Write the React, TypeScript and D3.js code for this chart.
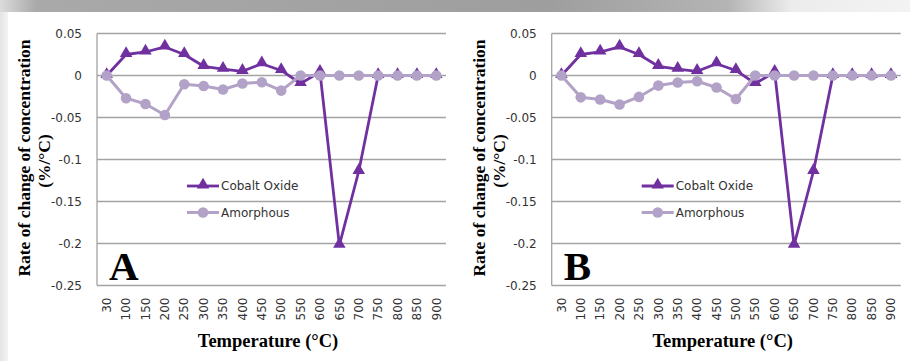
import React from "react";
import * as d3 from "d3";

const temperatures = ["30", "100", "150", "200", "250", "300", "350", "400", "450", "500", "550", "600", "650", "700", "750", "800", "850", "900"];
const yTicks = [0.05, 0, -0.05, -0.1, -0.15, -0.2, -0.25];

const cobaltA = [0, 0.025, 0.028, 0.034, 0.025, 0.011, 0.0075, 0.005, 0.014, 0.006, -0.0095, 0.004, -0.202, -0.114, 0, 0, 0, 0];
const amorphousA = [0, -0.027, -0.034, -0.047, -0.0105, -0.0125, -0.0167, -0.0095, -0.008, -0.018, 0, 0, 0, 0, 0, 0, 0, 0];
const cobaltB = [0, 0.025, 0.028, 0.034, 0.025, 0.011, 0.0075, 0.005, 0.014, 0.006, -0.0095, 0.004, -0.202, -0.114, 0, 0, 0, 0];
const amorphousB = [0, -0.026, -0.0286, -0.0345, -0.0255, -0.012, -0.0083, -0.0068, -0.0143, -0.028, 0, 0, 0, 0, 0, 0, 0, 0];

const panels = [
  { label: "A", cobalt: cobaltA, amorphous: amorphousA, offset: 0 },
  { label: "B", cobalt: cobaltB, amorphous: amorphousB, offset: 454.7 },
];

const COBALT = "#7030A0";
const AMORPH = "#B3A2C7";
const GRID = "#a3a3a3";
const SANS = "'DejaVu Sans', Verdana, sans-serif";
const SERIF = "'Liberation Serif', 'Times New Roman', serif";

const W = 910;
const H = 361;
const plotLeft = 97;
const plotRight = 446;
const plotTop = 33.5;
const plotBottom = 285.5;

const triangle = d3.symbol().type(d3.symbolTriangle).size(68);

function Panel({ label, cobalt, amorphous, offset }: { label: string; cobalt: number[]; amorphous: number[]; offset: number }) {
  const x = d3.scaleBand<string>().domain(temperatures).range([plotLeft + offset, plotRight + offset]);
  const y = d3.scaleLinear().domain([-0.25, 0.05]).range([plotBottom, plotTop]);
  const cx = (t: string) => (x(t) as number) + x.bandwidth() / 2;
  const line = d3.line<number>().x((_, i) => cx(temperatures[i])).y((v) => y(v));
  const x0 = plotLeft + offset;
  const x1 = plotRight + offset;
  const midX = (x0 + x1) / 2 - 3.5;
  const legX = 187 + offset;

  return (
    <g>
      {yTicks.map((t) => (
        <g key={t}>
          <line x1={x0} x2={x1} y1={y(t)} y2={y(t)} stroke={GRID} strokeWidth={1.3} />
          <text x={x0 - 15} y={y(t)} dy="0.35em" textAnchor="end" fontFamily={SANS} fontSize={12} fill="#333">
            {String(t)}
          </text>
        </g>
      ))}
      <line x1={x0} x2={x0} y1={plotTop} y2={plotBottom} stroke={GRID} strokeWidth={1.3} />
      {temperatures.map((t) => (
        <text key={t} transform={`translate(${cx(t)},${plotBottom + 12}) rotate(-90)`} dy="0.35em" textAnchor="end" fontFamily={SANS} fontSize={12} fill="#333">
          {t}
        </text>
      ))}

      <path d={line(cobalt) || ""} fill="none" stroke={COBALT} strokeWidth={2.8} strokeLinejoin="round" />
      {cobalt.map((v, i) => (
        <path key={i} d={triangle() || ""} transform={`translate(${cx(temperatures[i])},${y(v) - 1})`} fill={COBALT} />
      ))}
      <path d={line(amorphous) || ""} fill="none" stroke={AMORPH} strokeWidth={3} strokeLinejoin="round" />
      {amorphous.map((v, i) => (
        <circle key={i} cx={cx(temperatures[i])} cy={y(v)} r={5.3} fill={AMORPH} />
      ))}

      {/* legend */}
      <line x1={legX} x2={legX + 32} y1={186} y2={186} stroke={COBALT} strokeWidth={2.8} />
      <path d={triangle() || ""} transform={`translate(${legX + 16},185)`} fill={COBALT} />
      <text x={legX + 34} y={186} dy="0.35em" fontFamily={SANS} fontSize={12} fill="#333">Cobalt Oxide</text>
      <line x1={legX} x2={legX + 32} y1={212.5} y2={212.5} stroke={AMORPH} strokeWidth={3} />
      <circle cx={legX + 16} cy={212.5} r={5.3} fill={AMORPH} />
      <text x={legX + 34} y={212.5} dy="0.35em" fontFamily={SANS} fontSize={12} fill="#333">Amorphous</text>

      <text x={x0 + 12} y={280} fontFamily={SERIF} fontWeight="bold" fontSize={41} fill="#000">{label}</text>

      <text x={midX} y={347} textAnchor="middle" fontFamily={SERIF} fontWeight="bold" fontSize={18.5} fill="#000">
        Temperature (°C)
      </text>
      <text transform={`translate(${30 + offset},158) rotate(-90)`} textAnchor="middle" fontFamily={SERIF} fontWeight="bold" fontSize={17.5} fill="#000">
        Rate of change of concentration
      </text>
      <text transform={`translate(${50 + offset},161) rotate(-90)`} textAnchor="middle" fontFamily={SERIF} fontWeight="bold" fontSize={17.5} fill="#000">
        (%/°C)
      </text>
    </g>
  );
}

export default function App() {
  return (
    <div style={{ position: "absolute", left: 0, top: 0 }}>
      <svg width={W} height={H} style={{ display: "block" }}>
        <defs>
          <linearGradient id="topBand" x1="0" x2="1" y1="0" y2="0">
            <stop offset="0" stopColor="#dcdcdc" />
            <stop offset="0.04" stopColor="#a9a9a9" />
            <stop offset="0.6" stopColor="#9e9e9e" />
            <stop offset="0.8" stopColor="#b4b4b4" />
            <stop offset="0.87" stopColor="#ececec" />
            <stop offset="1" stopColor="#f3f3f3" />
          </linearGradient>
          <linearGradient id="leftEdge" x1="0" x2="1" y1="0" y2="0">
            <stop offset="0" stopColor="#e4e4e4" />
            <stop offset="1" stopColor="#f4f4f4" />
          </linearGradient>
        </defs>
        <rect x={0} y={0} width={W} height={H} fill="#fff" />
        <rect x={0} y={0} width={W} height={12} fill="url(#topBand)" />
        <rect x={0} y={12} width={8} height={H - 12} fill="url(#leftEdge)" />
        {panels.map((p) => (
          <Panel key={p.label} {...p} />
        ))}
      </svg>
    </div>
  );
}
